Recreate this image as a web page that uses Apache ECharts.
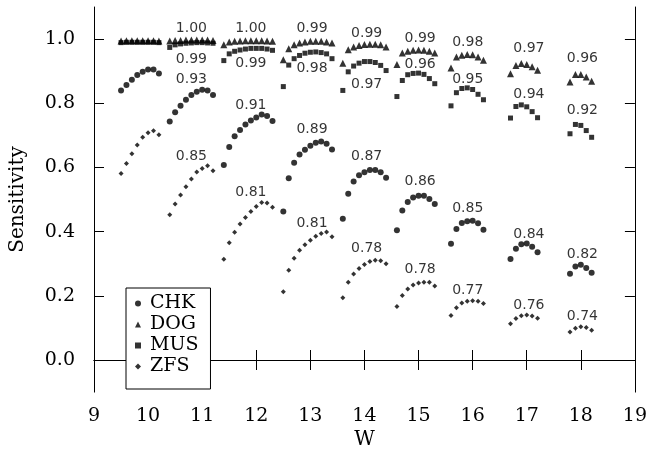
<!DOCTYPE html>
<html><head><meta charset="utf-8">
<script src="https://cdn.jsdelivr.net/npm/echarts@6/dist/echarts.min.js"></script>
<style>html,body{margin:0;padding:0;background:#fff}#c{width:650px;height:455px}</style>
</head><body><div id="c"></div>
<script>
// W positions of the points in each of the nine groups
const W = [
  [9.5,9.6,9.7,9.8,9.9,10.0,10.1,10.2],
  [10.4,10.5,10.6,10.7,10.8,10.9,11.0,11.1,11.2],
  [11.4,11.5,11.6,11.7,11.8,11.9,12.0,12.1,12.2,12.3],
  [12.5,12.6,12.7,12.8,12.9,13.0,13.1,13.2,13.3,13.4],
  [13.6,13.7,13.8,13.9,14.0,14.1,14.2,14.3,14.4],
  [14.6,14.7,14.8,14.9,15.0,15.1,15.2,15.3],
  [15.6,15.7,15.8,15.9,16.0,16.1,16.2],
  [16.7,16.8,16.9,17.0,17.1,17.2],
  [17.8,17.9,18.0,18.1,18.2]
];
const CHK = [
  [0.840,0.857,0.873,0.888,0.898,0.905,0.905,0.893],
  [0.743,0.772,0.792,0.811,0.826,0.836,0.842,0.840,0.826],
  [0.608,0.664,0.697,0.717,0.734,0.746,0.756,0.765,0.760,0.745],
  [0.463,0.566,0.615,0.640,0.655,0.668,0.677,0.681,0.674,0.656],
  [0.440,0.518,0.556,0.576,0.585,0.592,0.592,0.585,0.568],
  [0.404,0.466,0.492,0.506,0.512,0.512,0.502,0.486],
  [0.362,0.408,0.427,0.432,0.434,0.426,0.406],
  [0.315,0.347,0.361,0.363,0.353,0.336],
  [0.269,0.291,0.297,0.287,0.272]
];
const DOG = [
  [0.994,0.995,0.995,0.995,0.995,0.995,0.995,0.994],
  [0.994,0.996,0.996,0.997,0.997,0.997,0.997,0.997,0.996],
  [0.982,0.991,0.993,0.994,0.995,0.995,0.995,0.995,0.994,0.993],
  [0.936,0.970,0.982,0.988,0.991,0.993,0.993,0.993,0.991,0.988],
  [0.925,0.967,0.975,0.980,0.983,0.984,0.984,0.982,0.975],
  [0.921,0.957,0.962,0.965,0.966,0.965,0.962,0.957],
  [0.910,0.944,0.950,0.952,0.951,0.944,0.934],
  [0.892,0.918,0.924,0.921,0.914,0.903],
  [0.866,0.890,0.890,0.882,0.869]
];
const MUS = [
  [0.989,0.990,0.990,0.990,0.990,0.990,0.990,0.989],
  [0.974,0.982,0.985,0.987,0.988,0.989,0.989,0.988,0.987],
  [0.933,0.954,0.962,0.966,0.969,0.971,0.971,0.971,0.969,0.965],
  [0.852,0.919,0.939,0.949,0.956,0.959,0.960,0.958,0.954,0.939],
  [0.840,0.898,0.916,0.925,0.930,0.930,0.927,0.918,0.902],
  [0.821,0.871,0.889,0.893,0.894,0.890,0.877,0.861],
  [0.792,0.833,0.846,0.848,0.843,0.828,0.811],
  [0.754,0.790,0.795,0.789,0.774,0.755],
  [0.705,0.734,0.731,0.715,0.694]
];
const ZFS = [
  [0.581,0.612,0.643,0.670,0.694,0.708,0.714,0.702],
  [0.453,0.486,0.514,0.540,0.564,0.586,0.597,0.605,0.590],
  [0.314,0.365,0.398,0.424,0.444,0.463,0.478,0.491,0.489,0.476],
  [0.213,0.280,0.317,0.342,0.359,0.373,0.386,0.394,0.399,0.384],
  [0.194,0.242,0.268,0.285,0.298,0.307,0.311,0.309,0.300],
  [0.167,0.201,0.221,0.234,0.240,0.242,0.242,0.231],
  [0.139,0.163,0.178,0.183,0.185,0.183,0.176],
  [0.113,0.129,0.138,0.140,0.137,0.130],
  [0.087,0.099,0.104,0.101,0.093]
];
// annotation labels (groups 2..9)
const labelW = [10.8,11.9,13.03,14.04,15.03,15.91,17.04,18.03];
const dogLabelText = ["1.00","1.00","0.99","0.99","0.99","0.98","0.97","0.96"];
const dogLabelY = [1.034,1.034,1.035,1.019,1.002,0.989,0.971,0.940];
const musLabelText = ["0.99","0.99","0.98","0.97","0.96","0.95","0.94","0.92"];
const musLabelY = [0.938,0.924,0.909,0.858,0.922,0.876,0.827,0.778];
const chkLabelText = ["0.93","0.91","0.89","0.87","0.86","0.85","0.84","0.82"];
const chkLabelY = [0.874,0.794,0.718,0.634,0.556,0.474,0.392,0.330];
const zfsLabelText = ["0.85","0.81","0.81","0.78","0.78","0.77","0.76","0.74"];
const zfsLabelY = [0.634,0.522,0.426,0.347,0.281,0.217,0.171,0.135];
const yTicks = [0,0.2,0.4,0.6,0.8,1.0];

function pairs(ys){const out=[];ys.forEach((g,gi)=>g.forEach((y,i)=>out.push([W[gi][i],y])));return out;}
function labels(ys,txt){return labelW.map((x,i)=>[x,ys[i],txt[i]]);}

const SERIF='"DejaVu Serif", serif';
const SANS='"DejaVu Sans", sans-serif';
const chart = echarts.init(document.getElementById('c'),null,{renderer:'canvas'});
const labelSeries = (data)=>({type:'scatter',data,symbolSize:0,silent:true,
  label:{show:true,position:'inside',formatter:p=>p.value[2],color:'#000',fontFamily:SANS,fontSize:14}});
chart.setOption({
  animation:false,
  backgroundColor:'#fff',
  grid:{left:92,right:11,top:7,bottom:57},
  xAxis:[
    {type:'value',min:9,max:19,interval:1,position:'bottom',
     name:'W',nameLocation:'middle',nameGap:33,nameTextStyle:{fontFamily:SERIF,fontSize:20,color:'#000'},
     axisLine:{show:true,lineStyle:{color:'#000',width:1}},
     axisTick:{show:true,inside:true,length:10,lineStyle:{color:'#000'}},
     axisLabel:{margin:14,fontFamily:SERIF,fontSize:19,color:'#000'},splitLine:{show:false}},
    {type:'value',min:9,max:19,interval:1,position:'top',
     axisLine:{show:true,lineStyle:{color:'#000',width:1}},
     axisTick:{show:true,inside:true,length:10,lineStyle:{color:'#000'}},
     axisLabel:{show:false},splitLine:{show:false}}
  ],
  yAxis:[
    {type:'value',min:-0.1,max:1.1,position:'left',
     name:'Sensitivity',nameLocation:'middle',nameGap:66,nameTextStyle:{fontFamily:SERIF,fontSize:20,color:'#000'},
     axisLine:{show:true,lineStyle:{color:'#000',width:1}},
     axisTick:{show:true,inside:true,length:10,customValues:yTicks,lineStyle:{color:'#000'}},
     axisLabel:{margin:19,fontFamily:SERIF,fontSize:19,color:'#000',customValues:yTicks,formatter:v=>v.toFixed(1)},
     splitLine:{show:false}},
    {type:'value',min:-0.1,max:1.1,position:'right',
     axisLine:{show:true,lineStyle:{color:'#000',width:1}},
     axisTick:{show:true,inside:true,length:10,customValues:yTicks,lineStyle:{color:'#000'}},
     axisLabel:{show:false},splitLine:{show:false}}
  ],
  legend:{
    data:[{name:'CHK',icon:'circle'},{name:'DOG',icon:'triangle'},{name:'MUS',icon:'rect'},{name:'ZFS',icon:'diamond'}],
    orient:'vertical',left:126,top:288,itemWidth:6,itemHeight:6,itemGap:0,
    padding:[5,12,12,9],borderColor:'#000',borderWidth:1,backgroundColor:'#fff',
    textStyle:{fontFamily:SERIF,fontSize:19,color:'#000',lineHeight:21,padding:[0,0,0,4]},
    itemStyle:{color:'#000'}
  },
  series:[
    {name:'MUS',type:'scatter',symbol:'rect',symbolSize:5,itemStyle:{color:'#000'},data:pairs(MUS)},
    {name:'DOG',type:'scatter',symbol:'triangle',symbolSize:7,itemStyle:{color:'#000'},data:pairs(DOG)},
    {name:'CHK',type:'scatter',symbol:'circle',symbolSize:6,itemStyle:{color:'#000'},data:pairs(CHK)},
    {name:'ZFS',type:'scatter',symbol:'diamond',symbolSize:5,itemStyle:{color:'#000'},data:pairs(ZFS)},
    labelSeries(labels(dogLabelY,dogLabelText)),
    labelSeries(labels(musLabelY,musLabelText)),
    labelSeries(labels(chkLabelY,chkLabelText)),
    labelSeries(labels(zfsLabelY,zfsLabelText))
  ]
});
</script></body></html>
